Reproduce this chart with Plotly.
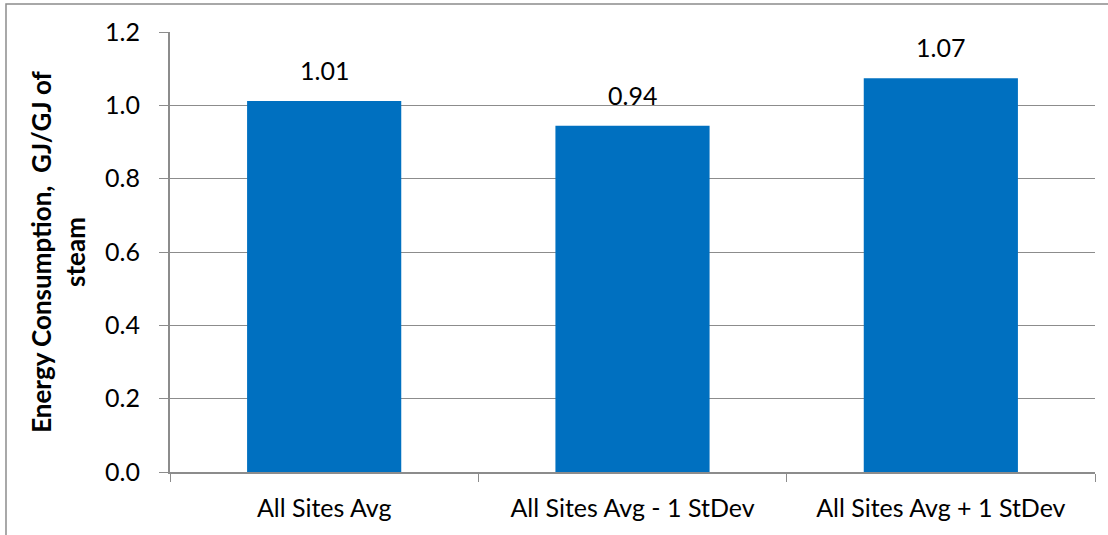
import plotly.graph_objects as go

categories = ["All Sites Avg", "All Sites Avg - 1 StDev", "All Sites Avg + 1 StDev"]
values = [1.012, 0.944, 1.074]
y_ticks = [0.0, 0.2, 0.4, 0.6, 0.8, 1.0, 1.2]

FONT = "Lato"
FS = 25
fig = go.Figure()
fig.add_trace(go.Bar(
    x=categories, y=values,
    marker=dict(color="#0070C0", line=dict(width=0)),
    width=0.5,
))
for c, v in zip(categories, values):
    fig.add_annotation(x=c, y=v, text=f"{v:.2f}", showarrow=False,
                       yanchor="bottom", yshift=14,
                       font=dict(family=FONT, size=FS, color="#000"))

fig.add_shape(type="rect", xref="paper", yref="paper",
              x0=-0.1773, x1=1.1, y0=-0.3, y1=1.0636,
              line=dict(color="#8c8c8c", width=1.5), layer="below")

fig.update_layout(
    width=1108, height=535,
    margin=dict(l=170, r=13, t=32, b=63),
    paper_bgcolor="white", plot_bgcolor="white",
    showlegend=False,
    font=dict(family=FONT, size=FS, color="#000"),
    xaxis=dict(
        showline=True, linecolor="#8c8c8c", linewidth=2,
        ticks="outside", tickson="boundaries", ticklen=8, tickcolor="#8c8c8c",
        tickfont=dict(family=FONT, size=FS, color="#000"),
        ticklabelstandoff=13,
        showgrid=False, range=[-0.5, 2.5],
    ),
    yaxis=dict(
        range=[0, 1.2], tickvals=y_ticks, tickformat=".1f",
        showline=True, linecolor="#8c8c8c", linewidth=2,
        ticks="outside", ticklen=9, tickcolor="#8c8c8c",
        ticklabelstandoff=14,
        showgrid=True, gridcolor="#8c8c8c", gridwidth=1,
        zeroline=False,
        tickfont=dict(family=FONT, size=FS, color="#000"),
        title=dict(text="<b>Energy Consumption,  GJ/GJ of<br>steam</b>",
                   font=dict(family=FONT, size=26, color="#000"), standoff=12),
    ),
)
fig.write_html("out.html", config={"displayModeBar": False},
               post_script="document.body.style.margin='0';")
